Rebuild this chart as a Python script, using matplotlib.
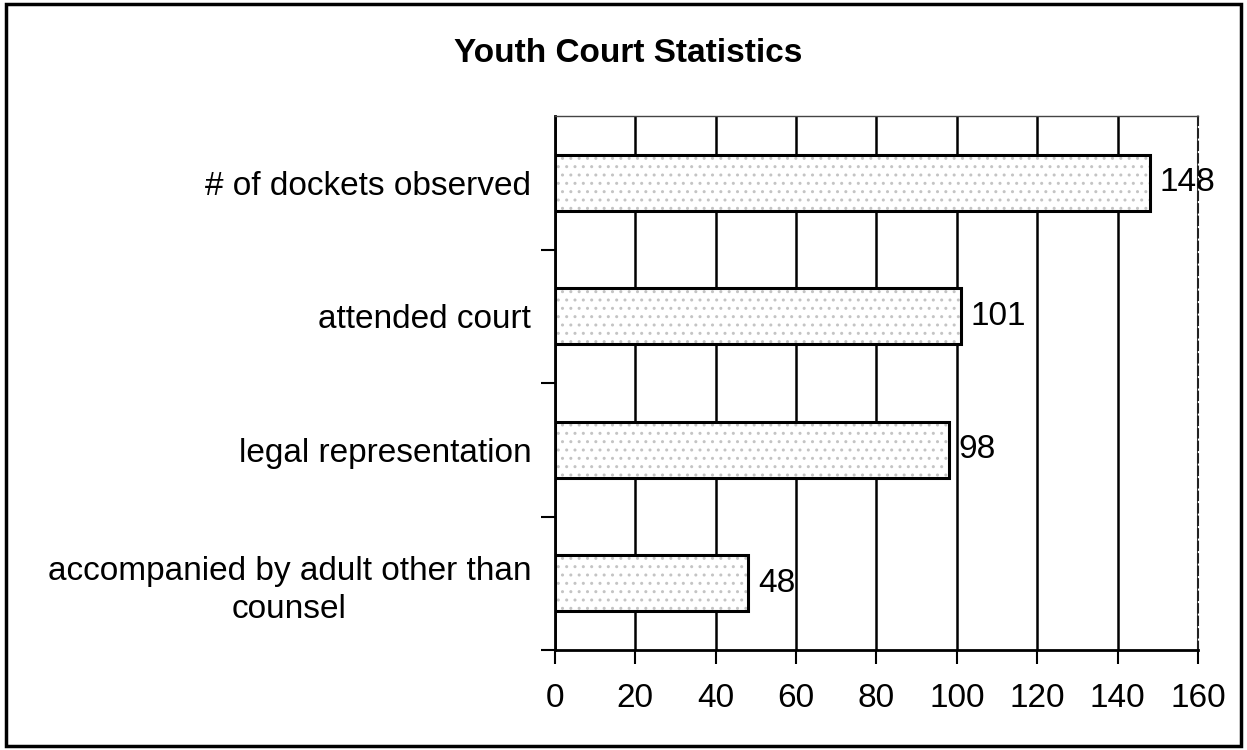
import matplotlib.pyplot as plt
from matplotlib.patches import Rectangle

plt.rcParams['font.family'] = ['Liberation Sans', 'DejaVu Sans']

categories = ['# of dockets observed', 'attended court', 'legal representation',
              'accompanied by adult other than\ncounsel']
values = [148, 101, 98, 48]
xticks = [0, 20, 40, 60, 80, 100, 120, 140, 160]

fig = plt.figure(figsize=(12.47, 7.5), dpi=100)
ax = fig.add_axes([0.445, 0.1333, 0.5157, 0.712])

ypos = list(range(len(categories)))

# stippled fill, then the black outline on top
ax.barh(ypos, values, height=0.42, color='white', edgecolor='#c4c4c4',
        hatch='..', linewidth=0, zorder=3)
ax.barh(ypos, values, height=0.42, fill=False, edgecolor='black',
        linewidth=2.2, zorder=4)

for y, v in zip(ypos, values):
    ax.text(v + 2.5, y, str(v), va='center', ha='left', fontsize=24, zorder=5)

ax.set_xlim(0, 160)
ax.set_ylim(3.5, -0.5)
ax.set_xticks(xticks)
ax.set_xticklabels([str(t) for t in xticks], fontsize=24)
ax.tick_params(axis='x', direction='out', length=10, width=1.5, pad=14)

ax.set_yticks(ypos)
ax.set_yticklabels(categories, fontsize=24, multialignment='center',
                   linespacing=1.3)
ax.tick_params(axis='y', length=0, pad=17)
# small ticks between categories
ax.set_yticks([0.5, 1.5, 2.5, 3.5], minor=True)
ax.tick_params(axis='y', which='minor', direction='out', length=10, width=1.5)

ax.grid(axis='x', color='black', linewidth=1.8, zorder=1)
ax.set_axisbelow(True)

for side in ['left', 'bottom']:
    ax.spines[side].set_linewidth(2)
    ax.spines[side].set_color('black')
ax.spines['top'].set_linewidth(1)
ax.spines['top'].set_color('#444444')
ax.spines['right'].set_linewidth(1.5)
ax.spines['right'].set_linestyle((0, (4, 2)))
ax.spines['right'].set_color('#222222')

fig.text(0.5036, 0.928, 'Youth Court Statistics', ha='center', va='center',
         fontsize=24, fontweight='bold')

# outer chart border
fig.patches.append(Rectangle((0.005, 0.005), 0.99, 0.99, transform=fig.transFigure,
                             fill=False, edgecolor='black', linewidth=2.5))

fig.savefig('out.png', dpi=100)
